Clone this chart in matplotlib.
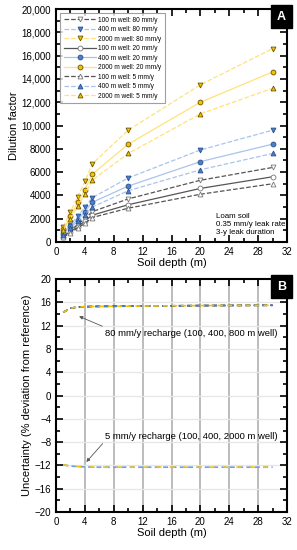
import numpy as np
import matplotlib
matplotlib.use('Agg')
import matplotlib.pyplot as plt
from matplotlib.ticker import MultipleLocator, FixedLocator, FixedFormatter

plt.rcParams['font.family'] = ['Liberation Sans', 'DejaVu Sans']

depth = [1, 2, 3, 4, 5, 10, 20, 30]

# dilution factor, panel A
w100_r80 = [500, 1000, 1500, 2000, 2600, 3700, 5300, 6400]
w400_r80 = [800, 1500, 2200, 3000, 3800, 5500, 7900, 9600]
w2000_r80 = [1300, 2600, 3900, 5200, 6700, 9600, 13500, 16600]
w100_r20 = [450, 900, 1300, 1800, 2300, 3200, 4600, 5600]
w400_r20 = [700, 1400, 1900, 2600, 3400, 4800, 6900, 8400]
w2000_r20 = [1100, 2200, 3400, 4500, 5800, 8400, 12000, 14600]
w100_r5 = [400, 800, 1200, 1600, 2100, 2900, 4100, 5000]
w400_r5 = [600, 1200, 1800, 2300, 3000, 4400, 6200, 7600]
w2000_r5 = [1000, 2000, 3100, 4100, 5300, 7600, 11000, 13200]

# uncertainty, panel B
unc_r80 = [14.3, 15.0, 15.2, 15.25, 15.3, 15.35, 15.45, 15.5]
unc_r5 = [-11.9, -12.1, -12.2, -12.25, -12.3, -12.3, -12.3, -12.3]

y_ticks_a = [0, 2000, 4000, 6000, 8000, 10000, 12000, 14000, 16000, 18000, 20000]
y_labels_a = ['0', '2000', '4000', '6000', '8000', '10,000', '12,000',
              '14,000', '16,000', '18,000', '20,000']

gray_m, gray_l = 'white', '#555555'
blue_m, blue_l = '#4a7fd0', '#a9c4ec'
gold_m, gold_l = '#f2c200', '#ffe27a'

series = [
    (w100_r80, 'v', '--', gray_m, '#777777', gray_l, '100 m well: 80 mm/y'),
    (w400_r80, 'v', '--', blue_m, '#2b4f8a', blue_l, '400 m well: 80 mm/y'),
    (w2000_r80, 'v', '--', gold_m, '#6b5300', gold_l, '2000 m well: 80 mm/y'),
    (w100_r20, 'o', '-', gray_m, '#777777', gray_l, '100 m well: 20 mm/y'),
    (w400_r20, 'o', '-', blue_m, '#2b4f8a', blue_l, '400 m well: 20 mm/y'),
    (w2000_r20, 'o', '-', gold_m, '#6b5300', gold_l, '2000 m well: 20 mm/y'),
    (w100_r5, '^', '--', gray_m, '#777777', gray_l, '100 m well: 5 mm/y'),
    (w400_r5, '^', '--', blue_m, '#2b4f8a', blue_l, '400 m well: 5 mm/y'),
    (w2000_r5, '^', '--', gold_m, '#6b5300', gold_l, '2000 m well: 5 mm/y'),
]

fig = plt.figure(figsize=(2.97, 5.5), dpi=100)
ax1 = fig.add_axes([0.1886, 0.56, 0.778, 0.4236])
ax2 = fig.add_axes([0.1886, 0.069, 0.778, 0.4236])


def style(ax):
    ax.tick_params(which='both', direction='in', top=True, right=True,
                   labelsize=7, width=1.2)
    ax.tick_params(which='major', length=5)
    ax.tick_params(which='minor', length=3)
    for s in ax.spines.values():
        s.set_linewidth(1.5)
    ax.set_xlim(0, 32)
    ax.xaxis.set_major_locator(MultipleLocator(4))
    ax.xaxis.set_minor_locator(MultipleLocator(2))
    ax.set_xlabel('Soil depth (m)', fontsize=8, labelpad=1)


def tag(ax, letter):
    ax.text(0.995, 0.993, letter, transform=ax.transAxes, ha='right', va='top',
            color='white', fontsize=9, fontweight='bold',
            bbox=dict(boxstyle='square,pad=0.45', fc='black', ec='black'))


# panel A
for vals, mk, ls, mfc, mec, lc, lab in series:
    ax1.plot(depth, vals, ls, color=lc, lw=0.9, marker=mk, ms=3.5,
             mfc=mfc, mec=mec, mew=0.6, label=lab)
style(ax1)
ax1.set_ylim(0, 20000)
ax1.yaxis.set_major_locator(FixedLocator(y_ticks_a))
ax1.yaxis.set_major_formatter(FixedFormatter(y_labels_a))
ax1.yaxis.set_minor_locator(MultipleLocator(1000))
ax1.set_ylabel('Dilution factor', fontsize=8, labelpad=2)
leg = ax1.legend(loc='upper left', fontsize=4.7, frameon=True, fancybox=False,
                 edgecolor='#888888', handlelength=5.0, labelspacing=0.38,
                 borderpad=0.5, handletextpad=0.3, bbox_to_anchor=(0.005, 0.995))
leg.get_frame().set_linewidth(0.8)
ax1.text(22.2, 650, 'Loam soil\n0.35 mm/y leak rate\n3-y leak duration',
         fontsize=5.7, linespacing=1.2)
tag(ax1, 'A')

# panel B
for v in range(4, 32, 4):
    ax2.axvline(v, color='#aaaaaa', lw=1.1, zorder=0)
for h in range(-16, 20, 4):
    ax2.axhline(h, color='#e6e6e6', lw=0.9, zorder=0)
ax2.plot(depth, unc_r80, '--', color='black', lw=1.2, dashes=(3, 2))
ax2.plot(depth, unc_r80, '--', color='#4a7fd0', lw=1.2, dashes=(3, 2))
ax2.plot(depth, unc_r80, '--', color=gold_m, lw=1.2, dashes=(3, 2.5), dash_capstyle='butt')
ax2.plot(depth, unc_r5, '--', color='#6fa0e0', lw=1.2, dashes=(3, 2))
ax2.plot(depth, unc_r5, '--', color=gold_m, lw=1.2, dashes=(3, 5))
style(ax2)
ax2.set_ylim(-20, 20)
ax2.yaxis.set_major_locator(MultipleLocator(4))
ax2.yaxis.set_minor_locator(MultipleLocator(2))
ax2.set_ylabel('Uncertainty (% deviation from reference)', fontsize=8, labelpad=2)
ax2.annotate('80 mm/y recharge (100, 400, 800 m well)', xy=(3.2, 13.6),
             xytext=(6.8, 10.7), fontsize=6.8, va='center',
             arrowprops=dict(arrowstyle='-|>', color='#555555', lw=0.6,
                             mutation_scale=5, shrinkA=0, shrinkB=0,
                             relpos=(0.03, 0.9)))
ax2.annotate('5 mm/y recharge (100, 400, 2000 m well)', xy=(4.2, -11.4),
             xytext=(6.8, -7.0), fontsize=6.8, va='center',
             arrowprops=dict(arrowstyle='-|>', color='#555555', lw=0.6,
                             mutation_scale=5, shrinkA=0, shrinkB=0,
                             relpos=(0.0, 0.0)))
tag(ax2, 'B')

fig.savefig('out.png', dpi=100)
